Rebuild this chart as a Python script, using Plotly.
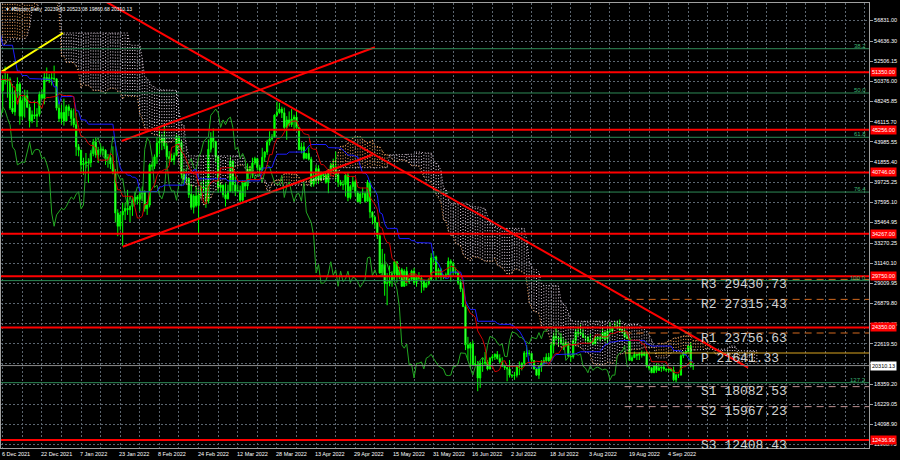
import pandas as pd
import numpy as np
import plotly.graph_objects as go

# ---------------- data (daily BTC) ----------------
start_date = "2021-09-15"
first_open = 47100.0

close = [
    # Sep 15-30 2021
    48100, 47750, 47300, 48300, 47250, 43000, 40700, 43550, 44900, 42800, 42700, 43200, 42200, 41000, 41500, 43800,
    # Oct 2021
    48150, 47650, 48200, 49200, 51500, 55300, 53800, 53950, 54950, 54650, 57500, 56000, 57350, 57350, 61650, 60900,
    61500, 62000, 64300, 66000, 62200, 60700, 61300, 60850, 63100, 60350, 58450, 60600, 62250, 61850, 61300,
    # Nov 2021
    61000, 63200, 62950, 61450, 61000, 61550, 63300, 67550, 66950, 64900, 64850, 64150, 64400, 65450, 63550, 60100,
    60350, 56900, 58050, 59700, 58650, 56300, 57550, 57150, 58950, 53750, 54750, 57250, 57800, 56950,
    # Dec 2021
    57200, 56500, 53600, 49150, 49400, 50550, 50450, 50600, 47550, 47150, 49350, 50100, 46700, 48350, 48850, 47650,
    46200, 46850, 46700, 46900, 49000, 48600, 50800, 50450, 50750, 50700, 50650, 47550, 46450, 47100, 46200,
    # Jan 2022
    47700, 47300, 46450, 45800, 43450, 43100, 41550, 41700, 41850, 41800, 42750, 43950, 42600, 43100, 43200, 43100,
    42200, 42350, 41650, 40700, 36450, 35050, 36250, 36650, 36950, 36800, 37150, 37700, 38150, 37900, 38450,
    # Feb 2022
    38700, 36900, 37300, 41550, 41400, 42400, 43850, 44050, 44400, 43550, 42400, 42200, 42050, 42550, 44550, 43900,
    40550, 40000, 40100, 38400, 37050, 38250, 37250, 38350, 39200, 39100, 37700, 43200,
    # Mar 2022
    44400, 44000, 42450, 39150, 39400, 38400, 37950, 38750, 41950, 39450, 38750, 38800, 37800, 39650, 39300, 41100,
    40900, 41750, 42200, 41250, 41000, 42350, 42900, 43950, 44300, 44500, 46800, 47100, 47450, 47050, 45500,
    # Apr 2022
    46300, 45800, 46400, 46600, 45500, 43150, 43450, 42250, 42750, 42150, 39500, 40050, 41150, 39950, 40550, 40400,
    39700, 40800, 41500, 41350, 40500, 39700, 39450, 39450, 40450, 38100, 39250, 39750, 38600, 37650,
    # May 2022
    38450, 38500, 37700, 39700, 36550, 36000, 35450, 34050, 30100, 31000, 29000, 29050, 29300, 30050, 31300, 29850,
    30450, 28700, 30300, 29200, 29450, 30300, 29100, 29650, 29550, 29200, 28600, 29000, 29450, 31700, 31800,
    # Jun 2022
    29800, 30450, 29700, 29850, 29900, 31350, 31100, 30200, 30100, 29100, 28400, 26550, 22500, 22150, 22600, 20400,
    20450, 19000, 20550, 20550, 20700, 19950, 21100, 21250, 21500, 21050, 20700, 20250, 20100, 19950,
    # Jul 2022
    19300, 19250, 19300, 20200, 20200, 20550, 21650, 21600, 21600, 20850, 19950, 19300, 20200, 20550, 20850, 21200,
    20800, 22450, 23400, 23250, 23150, 22700, 22450, 22600, 21300, 21250, 22950, 23850, 23800, 23650, 23300,
    # Aug 2022
    23300, 22950, 22800, 22600, 23300, 23200, 23150, 23800, 23150, 23950, 23950, 24400, 24450, 24300, 24100, 23850,
    23350, 23200, 20850, 21150, 21500, 21400, 21550, 21400, 21550, 20250, 20050, 19550, 20300, 19800, 20050,
    # Sep 1-14 2022
    20150, 19950, 19850, 19950, 19800, 18800, 19300, 19300, 21350, 21650, 21800, 22400, 20239.93, 20310.13,
]

high = [
    48450, 48500, 48150, 48800, 48350, 47350, 43650, 44000, 44950, 45200, 42950, 43950, 44300, 42800, 42550, 44100,
    48450, 48350, 49250, 49500, 51900, 55750, 55350, 56100, 55450, 56550, 57800, 57700, 57650, 58500, 62900, 62300,
    61750, 62650, 64450, 67000, 66650, 63700, 61750, 61450, 63700, 63300, 61500, 62500, 62950, 62350, 62400,
    62450, 64300, 63500, 63150, 62600, 61600, 63300, 67800, 68500, 69000, 65600, 65450, 64950, 65500, 66400, 63600,
    60800, 60950, 58300, 59850, 60000, 59250, 58000, 57800, 59350, 59150, 55300, 57450, 58850, 59200,
    59050, 57400, 57600, 53900, 49700, 51000, 51950, 51200, 50800, 50100, 49450, 50800, 50300, 48700, 49500, 49450,
    48000, 47300, 48350, 47550, 49300, 49550, 51400, 51850, 51150, 51250, 52050, 50700, 48100, 47900, 48550,
    47900, 47950, 47550, 47500, 47050, 43750, 43150, 42300, 42800, 42250, 43100, 44300, 44450, 43450, 43800, 43500,
    43200, 42700, 42600, 43500, 41100, 36850, 36550, 37550, 37550, 38900, 37250, 38000, 38700, 38350, 38750,
    39250, 38850, 37400, 41700, 41900, 42650, 44500, 45500, 44800, 45850, 43900, 43000, 42750, 42850, 44750, 44600,
    44200, 40950, 40500, 40150, 39500, 38450, 39250, 38900, 39750, 40300, 39900, 44250,
    45000, 45400, 44100, 42500, 39650, 39450, 39600, 39450, 42400, 42000, 40300, 39450, 39350, 39900, 39900, 41700,
    41450, 42300, 42400, 42300, 41550, 43350, 43000, 44200, 45100, 44800, 46900, 48200, 48100, 47700, 47600,
    46700, 47200, 47450, 46850, 47200, 45500, 43900, 43950, 42800, 43400, 42400, 40700, 41550, 41500, 40850, 40700,
    40600, 41100, 41750, 42200, 42950, 40800, 39950, 39900, 40600, 40800, 39450, 40350, 39950, 38800,
    38650, 39150, 38650, 39950, 39850, 36650, 36150, 35500, 34250, 32650, 32150, 30100, 30900, 30300, 31400, 31300,
    30750, 30650, 30500, 30750, 29600, 30450, 30650, 29800, 30200, 29850, 29400, 29200, 29550, 32200, 32400,
    31950, 30650, 30650, 29950, 30150, 31750, 31550, 31300, 30700, 30350, 29450, 28550, 26900, 23350, 22800, 22950,
    21350, 20800, 20800, 21100, 21750, 20900, 21200, 21500, 21600, 21850, 21500, 21200, 20400, 20150,
    20900, 19400, 19650, 20300, 20750, 20650, 21850, 22500, 21950, 21600, 20850, 20050, 20250, 20900, 21200, 21600,
    21650, 22800, 23800, 24300, 23450, 23750, 23000, 23000, 22700, 21350, 23100, 24200, 24450, 24650, 24200,
    23500, 23450, 23650, 23200, 23450, 23350, 23450, 24250, 23950, 24200, 24900, 24450, 24900, 25050, 25200, 24250,
    24450, 23600, 23200, 21400, 21800, 21500, 21700, 21900, 21800, 21850, 20350, 20150, 20400, 20550, 20500,
    20200, 20450, 20000, 20000, 20050, 20200, 19450, 19450, 21500, 21800, 21850, 22500, 22800, 20523.08,
]

low = [
    46750, 47050, 46800, 47050, 46850, 42500, 39600, 40550, 43100, 40700, 41700, 40800, 42100, 40850, 40750, 41400,
    43300, 47450, 47100, 46950, 49050, 50400, 53400, 53650, 53700, 54100, 54450, 54000, 54900, 56850, 56850, 60150,
    58950, 60000, 61350, 63500, 62000, 60000, 59700, 59550, 60650, 59850, 58000, 57800, 60200, 60700, 59950,
    59450, 60650, 60950, 60700, 60750, 60100, 61400, 63250, 66300, 62800, 64100, 62300, 63400, 63600, 63400, 58600,
    58400, 56500, 55600, 57400, 58500, 55650, 55300, 55900, 57000, 53500, 53650, 53300, 56750, 56500,
    56450, 55850, 51700, 42000, 47800, 47100, 50050, 48650, 47350, 46950, 46750, 48650, 45800, 46300, 46550, 47550,
    45500, 45950, 46400, 45550, 46650, 48450, 47950, 50400, 50200, 49950, 50450, 47300, 46100, 45900, 45700,
    46200, 46700, 45700, 45500, 42500, 42450, 40600, 40500, 41200, 39650, 41300, 42450, 42300, 41750, 42600, 42600,
    41550, 41250, 41100, 40550, 35450, 34000, 34600, 32950, 35700, 36250, 35500, 36150, 37300, 37350, 36650,
    38000, 36600, 36250, 37050, 40950, 41100, 41650, 42650, 43100, 43200, 42000, 41750, 41850, 41550, 42450, 43300,
    40100, 39450, 39650, 38050, 36800, 36400, 37050, 34300, 38050, 38600, 37000, 37450,
    42850, 43350, 41850, 38600, 38650, 38100, 37150, 37900, 38650, 38550, 38250, 38700, 37600, 37600, 38150, 38900,
    40550, 40150, 41550, 40950, 40500, 40900, 41850, 42600, 43600, 44100, 44400, 46650, 46950, 46500, 45200,
    44200, 45600, 45550, 45150, 45350, 43100, 42750, 42100, 42150, 42000, 39200, 39250, 39550, 39550, 39800, 40000,
    39550, 38550, 40550, 40850, 39750, 39200, 39300, 38900, 38200, 37700, 37900, 38900, 38200, 37600,
    37400, 38050, 37550, 37700, 35900, 35250, 34800, 33700, 30050, 29750, 27700, 26700, 28700, 28650, 29450, 29100,
    29450, 28650, 28650, 28750, 28950, 29250, 28850, 28650, 29300, 28000, 28250, 28550, 28800, 29300, 31200,
    29300, 29550, 29300, 29450, 29500, 29900, 29200, 29850, 29950, 28850, 28100, 26500, 21950, 20850, 20100, 20250,
    20300, 17600, 17950, 19650, 20350, 19800, 19900, 20750, 20900, 20950, 20500, 20200, 19850, 18650,
    19050, 19000, 18800, 19050, 19300, 19800, 20250, 21200, 21350, 20650, 19900, 19250, 18900, 19650, 20400, 20500,
    20750, 20750, 21600, 23000, 22350, 22500, 21950, 22250, 21250, 20700, 21050, 22600, 23400, 23500, 23250,
    22850, 22650, 22700, 22450, 22600, 22950, 22850, 23150, 22900, 22700, 23900, 23600, 24300, 24150, 23800, 23700,
    23200, 23100, 20800, 20750, 21150, 20900, 20900, 21150, 21300, 20100, 19800, 19550, 19550, 19550, 19800,
    19650, 19750, 19650, 19600, 19650, 18650, 18550, 19000, 19300, 21100, 21350, 21600, 20100, 19860.68,
]

assert len(close) == len(high) == len(low), (len(close), len(high), len(low))

# chart objects drawn by the analyst
red_levels = [51350.00, 45256.00, 40746.00, 34267.00, 29750.00, 24350.00, 12436.90]
fib_price_0 = 69000.0
fib_price_100 = 29300.0
fib_ratios = [0.382, 0.5, 0.618, 0.764, 1.0, 1.272]
fib_labels = ["38.2", "50.0", "61.8", "76.4", "100.0", "127.2"]
pivot_names = ["R3", "R2", "R1", "P", "S1", "S2", "S3"]
pivot_values = [29430.73, 27315.43, 23756.63, 21641.33, 18082.53, 15967.23, 12408.43]
pivot_start = "2022-08-17"
pivot_label_at = "2022-09-16 12:00"
last_price = 20310.13

trend_red = [
    (["2022-01-01 14:00", "2022-10-06 09:36"], [61105, 20097]),
    (["2022-01-23 14:24", "2022-05-07 00:00"], [44071, 53995]),
    (["2022-01-24 00:00", "2022-05-05 19:00"], [32888, 42590]),
]
trend_yellow = (["2021-12-05 14:10", "2021-12-30 15:00"], [51403, 55497])

y_tick_values = [56831.00, 54636.30, 52506.15, 50376.00, 48245.85, 46115.70, 43985.55, 41855.40, 39725.25,
                 37595.10, 35464.95, 33270.25, 31140.10, 29009.95, 26879.80, 24749.65, 22619.50, 20489.35,
                 18359.20, 16229.05, 14098.90, 11968.75]
hidden_tick = 20489.35   # covered by the current-price box in the reference
x_label_dates = ["2021-12-06", "2021-12-22", "2022-01-07", "2022-01-23", "2022-02-08", "2022-02-24",
                 "2022-03-12", "2022-03-28", "2022-04-13", "2022-04-29", "2022-05-15", "2022-05-31",
                 "2022-06-16", "2022-07-02", "2022-07-18", "2022-08-03", "2022-08-19", "2022-09-04"]
title_text = "\u25bc #Bitcoin,Daily  20239.93 20523.08 19860.68 20310.13"

x_lo, x_hi = "2021-12-05 07:26", "2022-11-24 19:12"
y_lo, y_hi = 11591, 58671

# ---------------- derived series ----------------
dates = pd.date_range(start_date, periods=len(close), freq="D")
opn = [first_open] + close[:-1]
hi = [max(a, b, c) for a, b, c in zip(high, opn, close)]
lo = [min(a, b, c) for a, b, c in zip(low, opn, close)]

H = pd.Series(hi, index=dates)
L = pd.Series(lo, index=dates)
C = pd.Series(close, index=dates)
tenkan = (H.rolling(9).max() + L.rolling(9).min()) / 2
kijun = (H.rolling(26).max() + L.rolling(26).min()) / 2
spanA = (tenkan + kijun) / 2
spanB = (H.rolling(52).max() + L.rolling(52).min()) / 2
cloud_dates = dates + pd.Timedelta(days=26)
chikou_dates = dates - pd.Timedelta(days=26)

ux, uy, dx, dy = [], [], [], []
for d, a, b in zip(cloud_dates, spanA.values, spanB.values):
    if np.isnan(a) or np.isnan(b):
        continue
    if a >= b:
        ux += [d, d, None]; uy += [a, b, None]
    else:
        dx += [d, d, None]; dy += [a, b, None]

# ---------------- figure ----------------
fig = go.Figure()
SANDY, THISTLE = "#f4a460", "#e0d0e0"
fig.add_trace(go.Scatter(x=dx, y=dy, mode="lines", line=dict(color=THISTLE, width=1, dash="1px,2px"),
                         hoverinfo="skip"))
fig.add_trace(go.Scatter(x=ux, y=uy, mode="lines", line=dict(color=SANDY, width=1, dash="1px,2px"),
                         hoverinfo="skip"))
fig.add_trace(go.Scatter(x=cloud_dates, y=spanA, mode="lines", line=dict(color=SANDY, width=1, dash="1px,2px")))
fig.add_trace(go.Scatter(x=cloud_dates, y=spanB, mode="lines", line=dict(color=THISTLE, width=1, dash="1px,2px")))
fig.add_trace(go.Scatter(x=chikou_dates, y=C, mode="lines", line=dict(color="#22a822", width=1)))
fig.add_trace(go.Scatter(x=dates, y=kijun, mode="lines", line=dict(color="#1c1cff", width=1)))
fig.add_trace(go.Scatter(x=dates, y=tenkan, mode="lines", line=dict(color="#d40000", width=1)))
fig.add_trace(go.Candlestick(
    x=dates, open=opn, high=hi, low=lo, close=close,
    increasing=dict(line=dict(color="#00ff00", width=1), fillcolor="#00ff00"),
    decreasing=dict(line=dict(color="#00ff00", width=1), fillcolor="#a8ffa8"),
    whiskerwidth=0, hoverinfo="skip",
))

# trend lines
for xs, ys in trend_red:
    fig.add_trace(go.Scatter(x=xs, y=ys, mode="lines", line=dict(color="#ff0000", width=2)))
fig.add_trace(go.Scatter(x=trend_yellow[0], y=trend_yellow[1], mode="lines", line=dict(color="#ffff00", width=2)))

shapes = []
annotations = []
LABEL_FONT = "Liberation Sans"

# fibonacci lines
for r, lab in zip(fib_ratios, fib_labels):
    p = fib_price_0 - r * (fib_price_0 - fib_price_100)
    shapes.append(dict(type="line", xref="paper", x0=0, x1=1, yref="y", y0=p, y1=p,
                       line=dict(color="#2e8b57", width=1)))
    annotations.append(dict(xref="paper", x=1, y=p, yref="y", text=lab, showarrow=False,
                            xanchor="right", yanchor="bottom", xshift=-1, yshift=-2,
                            font=dict(family=LABEL_FONT, size=6, color="#3cb371")))

# current price line
shapes.append(dict(type="line", xref="paper", x0=0, x1=1, yref="y", y0=last_price, y1=last_price,
                   line=dict(color="#8c8c8c", width=1)))

# pivot lines
for nm, v in zip(pivot_names, pivot_values):
    if nm == "P":
        ln = dict(color="#daa520", width=1)
    elif nm.startswith("R"):
        ln = dict(color="#d2691e", width=1, dash="7px,5px")
    else:
        ln = dict(color="#bc8f8f", width=1, dash="7px,5px")
    shapes.append(dict(type="line", xref="x", x0=pivot_start, x1=x_hi, yref="y", y0=v, y1=v, line=ln))
    annotations.append(dict(x=pivot_label_at, y=v, xref="x", yref="y", text=f"{nm} {v:.2f}",
                            showarrow=False, xanchor="left", yanchor="middle", yshift=-5,
                            font=dict(family="Liberation Mono", size=13, color="#d0d0d0")))

# red horizontal levels
for v in red_levels:
    shapes.append(dict(type="line", xref="paper", x0=0, x1=1, yref="y", y0=v, y1=v,
                       line=dict(color="#ff0000", width=2)))
    annotations.append(dict(xref="paper", x=1, y=v, yref="y", text=f"{v:.2f}", showarrow=False,
                            xanchor="left", yanchor="middle", xshift=1, bgcolor="#ff0000", borderpad=1,
                            font=dict(family=LABEL_FONT, size=5.5, color="#ffffff")))

annotations.append(dict(xref="paper", x=1, y=last_price, yref="y", text=f"{last_price:.2f}", showarrow=False,
                        xanchor="left", yanchor="middle", xshift=1, bgcolor="#ffffff", borderpad=1,
                        font=dict(family=LABEL_FONT, size=5.5, color="#000000")))

# date labels
for d in x_label_dates:
    ts = pd.Timestamp(d)
    annotations.append(dict(x=ts, xref="x", y=0, yref="paper", text=f"{ts.day} {ts.strftime('%b %Y')}",
                            showarrow=False, xanchor="left", yanchor="top", xshift=-3, yshift=-1,
                            font=dict(family=LABEL_FONT, size=5.5, color="#ffffff")))

annotations.append(dict(xref="paper", yref="paper", x=0, y=1, text=title_text, showarrow=False,
                        xanchor="left", yanchor="top", xshift=2, yshift=-1,
                        font=dict(family=LABEL_FONT, size=5, color="#ffffff")))

grid_dates = pd.date_range("2021-12-06", "2022-11-24", freq="8D")
GRID = "#5c6670"

fig.update_layout(
    width=900, height=460,
    margin=dict(l=1, r=31, t=3, b=12, autoexpand=False),
    paper_bgcolor="#000000", plot_bgcolor="#000000",
    showlegend=False, shapes=shapes, annotations=annotations,
    xaxis=dict(type="date", range=[x_lo, x_hi], tickvals=list(grid_dates), showticklabels=False,
               showgrid=True, gridcolor=GRID, griddash="2px,2px", gridwidth=1,
               showline=True, linecolor="#a0a0a0", mirror=True, zeroline=False,
               rangeslider=dict(visible=False), ticks=""),
    yaxis=dict(range=[y_lo, y_hi], side="right", tickvals=y_tick_values,
               ticktext=["" if v == hidden_tick else f"{v:.2f}" for v in y_tick_values],
               tickfont=dict(family=LABEL_FONT, size=5.5, color="#ffffff"),
               showgrid=True, gridcolor=GRID, griddash="2px,2px", gridwidth=1,
               showline=True, linecolor="#a0a0a0", mirror=True, zeroline=False,
               ticks="outside", ticklen=3, tickcolor="#a0a0a0"),
)

fig.write_html(
    "out.html",
    config={"displayModeBar": False, "staticPlot": True},
    post_script="document.body.style.margin='0';document.body.style.overflow='hidden';"
                "document.documentElement.style.background='#000';",
)
